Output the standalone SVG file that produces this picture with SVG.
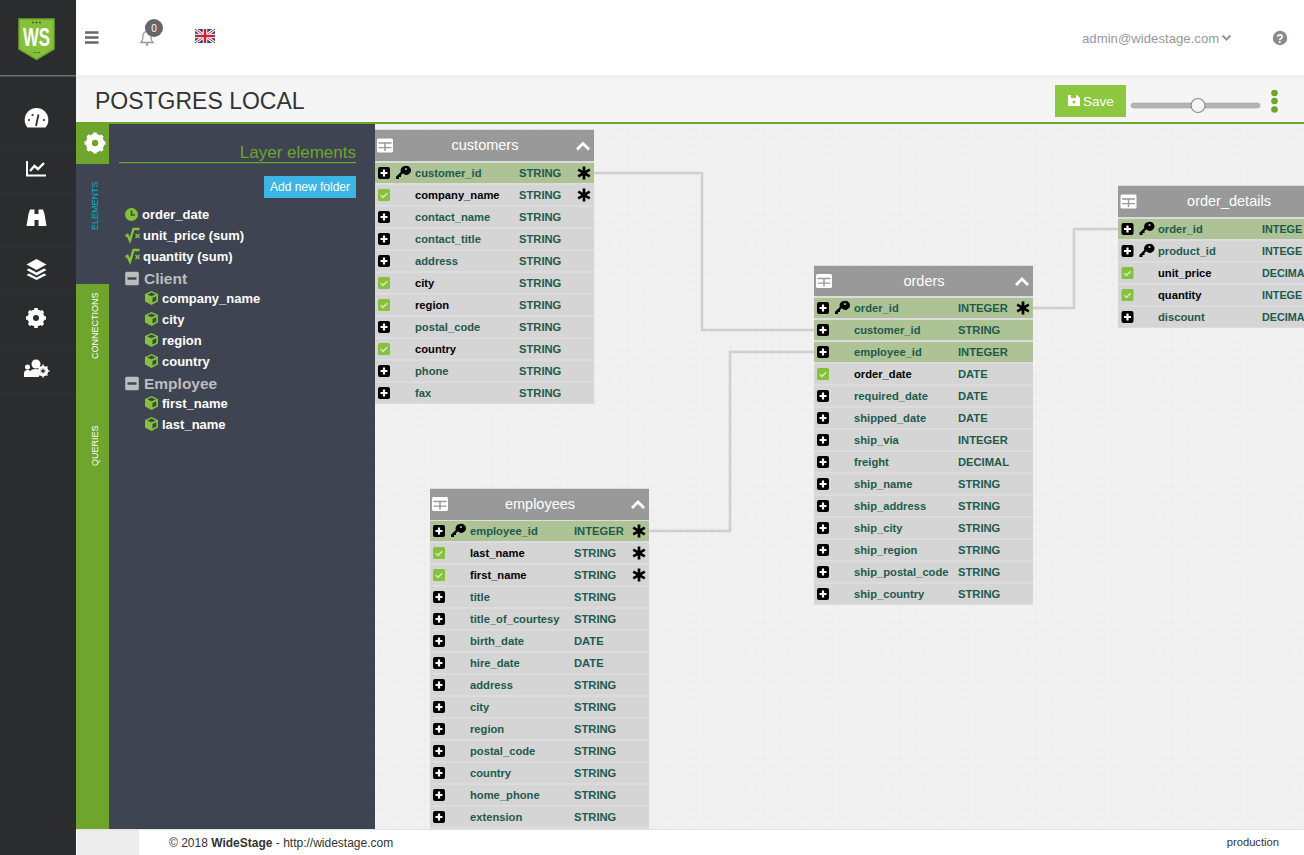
<svg xmlns="http://www.w3.org/2000/svg" width="1304" height="855" viewBox="0 0 1304 855">
<style>
text{font-family:"Liberation Sans",Arial,sans-serif}
.hd{font-size:14.5px;fill:#fff;text-anchor:middle}
.f{font-size:11.2px;font-weight:bold;fill:#1e5a4c}
.fs{font-size:11.2px;font-weight:bold;fill:#000}
.t{font-size:11.2px;font-weight:bold;fill:#1e5a4c}
.tc{font-size:10.8px;font-weight:bold;fill:#1e5a4c}
.r{fill:#d5d5d5}
.k{fill:#adc295}
.conn{fill:none;stroke:#cfcfcf;stroke-width:2.5}
.el{font-size:13px;font-weight:bold;fill:#fff}
.fold{font-size:15.5px;font-weight:bold;fill:#bdbdbd}
.vt{font-size:9px}
</style>
<defs>
<pattern id="grid" width="34" height="34" patternUnits="userSpaceOnUse" x="15.700" y="10">
<rect width="34" height="34" fill="#f1f1f1"/>
<path d="M8.500 0V34M17 0V34M25.500 0V34M0 8.500H34M0 17H34M0 25.500H34" stroke="#eeeeee" stroke-width="1" fill="none"/>
<path d="M0 0H34M0 0V34" stroke="#e9e9e9" stroke-width="1" fill="none"/>
</pattern>
<g id="plus"><rect x="-6" y="-6" width="12" height="12" rx="2" fill="#000"/><path d="M-3.500 0H3.500M0 -3.500V3.500" stroke="#fff" stroke-width="2.200"/></g>
<g id="chk"><rect x="-6" y="-6" width="12" height="12" rx="1.500" fill="#85c13c"/><path d="M-3.200 0.200L-1 2.400L3.200 -1.800" stroke="#d5e8bd" stroke-width="1.600" fill="none"/></g>
<path id="key" fill-rule="evenodd" fill="#000" d="M2.500 -6.500a4.500 4.500 0 0 0 -4.200 6L-6.500 4.200V6.500H-3.500V4.500H-1.500V2.500L0.500 0.700A4.500 4.500 0 1 0 2.500 -6.500ZM3.500 -4.600a1.100 1.100 0 1 0 0.010 0Z"/>
<g id="star"><path d="M0 -6.500V6.500M-5.800 -3.300L5.800 3.300M-5.800 3.300L5.800 -3.300" stroke="#000" stroke-width="2.700" fill="none"/></g>
<g id="tbl"><rect x="-8" y="-7" width="16" height="14" rx="1.500" fill="#fff"/><path d="M-6.500 -2.500H6.500M-6.500 2.200H6.500" stroke="#999" stroke-width="1.300"/><path d="M0 -2.500V5.500" stroke="#999" stroke-width="1.500"/></g>
<path id="chev" d="M-6 3.500L0 -2.500L6 3.500" stroke="#fff" stroke-width="2.800" fill="none"/>
<g id="cube"><path d="M0 -7L6.500 -4V3.500L0 7L-6.500 3.500V-4Z" fill="#85c13c"/><path d="M-4.200 -3.600L0 -5.400L4.200 -3.600L0 -1.800Z" fill="#3e4451"/><path d="M1 0V4.400L4.800 2.400V-1.800Z" fill="#3e4451"/></g>
<g id="sqrt"><path d="M-7 0.500L-5 -0.500L-2.500 5L1 -6.500H7" stroke="#85c13c" stroke-width="2.400" fill="none"/><path d="M3 -1.500L7 2.500M7 -1.500L3 2.500" stroke="#85c13c" stroke-width="1.600"/></g>
<g id="minus"><rect x="-6.800" y="-6.800" width="13.600" height="13.600" rx="1.500" fill="#bdbdbd"/><rect x="-4.500" y="-1.200" width="9" height="2.400" fill="#3e4451"/></g>
</defs>

<rect width="1304" height="855" fill="#fff"/>

<g id="page-header">
<rect x="76" y="75" width="1228" height="48" fill="#f5f5f5"/>
<rect x="76" y="75" width="1228" height="4" fill="#eeeeee"/>
<text x="95" y="109" font-size="23" fill="#333">POSTGRES LOCAL</text>
<rect x="76" y="122" width="1228" height="2" fill="#6ea52c"/>
</g>

<g id="canvas"><rect x="375" y="124" width="929" height="705" fill="url(#grid)"/></g>

<g id="connectors">
<path class="conn" d="M594 173H702V330H814"/>
<path class="conn" d="M649 531H730V352H814"/>
<path class="conn" d="M1033 308H1074V229H1118"/>
</g>

<g id="sidebar">
<rect width="76" height="855" fill="#2b2c2e"/>
<rect x="0" y="75" width="76" height="1.500" fill="#6d6e70"/>
<path d="M0 145H76M0 195H76M0 245H76M0 295H76M0 345H76M0 395H76" stroke="#313234" stroke-width="1"/>
<g id="logo">
<path d="M19 19H54V49L36.500 59.500L19 49Z" fill="#85c13c" stroke="#6ea52c" stroke-width="1.500"/>
<text x="36.500" y="46" font-size="25" font-weight="bold" fill="#fff" text-anchor="middle" textLength="27" lengthAdjust="spacingAndGlyphs">WS</text>
<path d="M32 22.500H41" stroke="#3e6b18" stroke-width="1.500" stroke-dasharray="2 1.500"/>
<path d="M33.500 52.500H40" stroke="#3e6b18" stroke-width="1" stroke-dasharray="1.500 1"/>
</g>
<g id="nav-dash"><path d="M27.500 127.500a11.800 11.800 0 1 1 18 0Z" fill="#fff"/><path d="M36 126L38.500 114.500" stroke="#2b2c2e" stroke-width="1.800"/><circle cx="29" cy="120" r="1.100" fill="#2b2c2e"/><circle cx="44" cy="120" r="1.100" fill="#2b2c2e"/><circle cx="32.500" cy="115" r="1.100" fill="#2b2c2e"/></g>
<g id="nav-chart"><path d="M27 161V175.500H46" stroke="#fff" stroke-width="2" fill="none"/><path d="M30 171L34.500 166L38 169L44 163" stroke="#fff" stroke-width="2.400" fill="none"/></g>
<g id="nav-binoc" fill="#fff"><path d="M26.500 226L28.500 214L30 209.500H34.500V226Z"/><path d="M46.500 226L44.500 214L43 209.500H38.500V226Z"/><rect x="34" y="214" width="5" height="6"/></g>
<g id="nav-layers" fill="#fff"><path d="M36.500 259L46.500 264.500L36.500 270L26.500 264.500Z"/><path d="M29 268.500L36.500 272.500L44 268.500L46.500 270L36.500 275.500L26.500 270Z"/><path d="M29 273.500L36.500 277.500L44 273.500L46.500 275L36.500 280L26.500 275Z"/></g>
<g id="nav-gear"><circle cx="36" cy="318" r="6.500" fill="none" stroke="#fff" stroke-width="4"/><path d="M36 308V328M26 318H46M29 311L43 325M43 311L29 325" stroke="#fff" stroke-width="3.500"/><circle cx="36" cy="318" r="3" fill="#2b2c2e"/></g>
<g id="nav-users" fill="#fff"><circle cx="36" cy="364" r="4.500"/><circle cx="27.500" cy="367" r="2.500"/><path d="M24 374a3.500 3.500 0 0 1 6 -3a8 8 0 0 1 9 -1v7H24Z"/><circle cx="43" cy="371" r="4" fill="none" stroke="#fff" stroke-width="2.500"/><path d="M43 364.500V377.500M36.500 371H49.500M38.500 366.500L47.500 375.500M47.500 366.500L38.500 375.500" stroke="#fff" stroke-width="1.500"/><circle cx="43" cy="371" r="1.800" fill="#2b2c2e"/></g>
</g>

<g id="topbar">
<rect x="76" y="0" width="1228" height="75" fill="#fff"/>
<path d="M85 32.500H98.500M85 37.500H98.500M85 42.500H98.500" stroke="#666" stroke-width="2.500"/>
<g id="bell"><path d="M141 42.500c2-1.500 2-4 2-7a4 4 0 0 1 8 0c0 3 0 5.500 2 7Z" fill="none" stroke="#999" stroke-width="1.300"/><circle cx="147" cy="44.500" r="1.300" fill="#999"/></g>
<circle cx="154" cy="28" r="9" fill="#666"/>
<text x="154" y="32" font-size="10" fill="#fff" text-anchor="middle">0</text>
<g id="flag"><rect x="195" y="29" width="20" height="14" fill="#2b3f86"/><path d="M195 29L215 43M215 29L195 43" stroke="#fff" stroke-width="3"/><path d="M195 29L215 43M215 29L195 43" stroke="#d0212f" stroke-width="1"/><path d="M205 29V43M195 36H215" stroke="#fff" stroke-width="4.500"/><path d="M205 29V43M195 36H215" stroke="#d0212f" stroke-width="2.500"/></g>
<text x="1082" y="43" font-size="13.200" fill="#999">admin@widestage.com</text>
<path d="M1222.500 35.500L1226.500 39.500L1230.500 35.500" fill="none" stroke="#999" stroke-width="2.200"/>
<circle cx="1280" cy="38" r="7.200" fill="#8a8a8a"/>
<text x="1280" y="42.500" font-size="12" font-weight="bold" fill="#fff" text-anchor="middle">?</text>
<rect x="1055" y="85" width="71" height="32" fill="#8dc63f"/>
<path d="M1068 95H1077L1080 98V106H1068Z" fill="#fff"/><rect x="1071" y="95" width="5" height="3" fill="#8dc63f"/><circle cx="1074" cy="102" r="1.500" fill="#8dc63f"/>
<text x="1083" y="105.500" font-size="13.500" fill="#fff">Save</text>
<rect x="1131" y="103" width="129" height="5" rx="2.500" fill="#b5b5b5" stroke="#999" stroke-width="0.500"/>
<circle cx="1198" cy="105.500" r="7" fill="#f5f5f5" stroke="#8a8a8a" stroke-width="1.200"/>
<circle cx="1274.500" cy="93" r="3.300" fill="#6ea52c"/><circle cx="1274.500" cy="101" r="3.300" fill="#6ea52c"/><circle cx="1274.500" cy="109.500" r="3.300" fill="#6ea52c"/>
</g>

<g id="layer-panel">
<rect x="76" y="124" width="299" height="705" fill="#3e4451"/>
<rect x="76" y="124" width="33" height="40" fill="#6ea52c"/>
<circle cx="95" cy="143" r="7" fill="none" stroke="#fff" stroke-width="4.500"/>
<path d="M95 132.500V153.500M84.500 143H105.500M87.500 135.500L102.500 150.500M102.500 135.500L87.500 150.500" stroke="#fff" stroke-width="3.500"/>
<circle cx="95" cy="143" r="3.200" fill="#6ea52c"/>
<rect x="76" y="284" width="33" height="545" fill="#6ea52c"/>
<text class="vt" x="97.500" y="230" fill="#00b5c8" transform="rotate(-90 97.500 230)">ELEMENTS</text>
<text class="vt" x="97.500" y="359" fill="#fff" transform="rotate(-90 97.500 359)">CONNECTIONS</text>
<text class="vt" x="97.500" y="466" fill="#fff" transform="rotate(-90 97.500 466)">QUERIES</text>
<text x="356" y="158" font-size="17" fill="#6ea52c" text-anchor="end">Layer elements</text>
<rect x="119" y="162" width="237" height="1.200" fill="#6ea52c"/>
<rect x="264" y="176" width="92" height="22" fill="#3db4e6"/>
<text x="310" y="191" font-size="12" fill="#fff" text-anchor="middle">Add new folder</text>
<g id="el-order-date"><circle cx="131.500" cy="214.500" r="6.500" fill="#85c13c"/><path d="M131.500 210.500V215H135" stroke="#3e4451" stroke-width="1.600" fill="none"/><text class="el" x="142" y="219">order_date</text></g>
<g id="el-unit-price"><use href="#sqrt" x="132.500" y="235.500"/><text class="el" x="143" y="240">unit_price (sum)</text></g>
<g id="el-quantity"><use href="#sqrt" x="132.500" y="256.500"/><text class="el" x="143" y="261">quantity (sum)</text></g>
<g id="folder-client"><use href="#minus" x="132" y="278.500"/><text class="fold" x="144" y="284">Client</text></g>
<g id="el-company"><use href="#cube" x="151.500" y="298"/><text class="el" x="162" y="303">company_name</text></g>
<g id="el-city"><use href="#cube" x="151.500" y="319"/><text class="el" x="162" y="324">city</text></g>
<g id="el-region"><use href="#cube" x="151.500" y="340"/><text class="el" x="162" y="345">region</text></g>
<g id="el-country"><use href="#cube" x="151.500" y="361"/><text class="el" x="162" y="366">country</text></g>
<g id="folder-employee"><use href="#minus" x="132" y="383.500"/><text class="fold" x="144" y="389">Employee</text></g>
<g id="el-first"><use href="#cube" x="151.500" y="403"/><text class="el" x="162" y="408">first_name</text></g>
<g id="el-last"><use href="#cube" x="151.500" y="424"/><text class="el" x="162" y="429">last_name</text></g>
</g>

<g id="customers">
<rect x="375" y="129" width="219" height="275" fill="#dcdcdc"/>
<rect x="375" y="130" width="219" height="31" fill="#999"/>
<use href="#tbl" x="385" y="145.500"/><text class="hd" x="485" y="150">customers</text><use href="#chev" x="583" y="146"/>
<rect class="k" x="375" y="163" width="219" height="20"/><use href="#plus" x="384" y="173"/><use href="#key" x="402.500" y="172.500"/><text class="f" x="415" y="177">customer_id</text><text class="t" x="519" y="177">STRING</text><use href="#star" x="584" y="173"/>
<rect class="r" x="375" y="185" width="219" height="20"/><use href="#chk" x="384" y="195"/><text class="fs" x="415" y="199">company_name</text><text class="t" x="519" y="199">STRING</text><use href="#star" x="584" y="195"/>
<rect class="r" x="375" y="207" width="219" height="20"/><use href="#plus" x="384" y="217"/><text class="f" x="415" y="221">contact_name</text><text class="t" x="519" y="221">STRING</text>
<rect class="r" x="375" y="229" width="219" height="20"/><use href="#plus" x="384" y="239"/><text class="f" x="415" y="243">contact_title</text><text class="t" x="519" y="243">STRING</text>
<rect class="r" x="375" y="251" width="219" height="20"/><use href="#plus" x="384" y="261"/><text class="f" x="415" y="265">address</text><text class="t" x="519" y="265">STRING</text>
<rect class="r" x="375" y="273" width="219" height="20"/><use href="#chk" x="384" y="283"/><text class="fs" x="415" y="287">city</text><text class="t" x="519" y="287">STRING</text>
<rect class="r" x="375" y="295" width="219" height="20"/><use href="#chk" x="384" y="305"/><text class="fs" x="415" y="309">region</text><text class="t" x="519" y="309">STRING</text>
<rect class="r" x="375" y="317" width="219" height="20"/><use href="#plus" x="384" y="327"/><text class="f" x="415" y="331">postal_code</text><text class="t" x="519" y="331">STRING</text>
<rect class="r" x="375" y="339" width="219" height="20"/><use href="#chk" x="384" y="349"/><text class="fs" x="415" y="353">country</text><text class="t" x="519" y="353">STRING</text>
<rect class="r" x="375" y="361" width="219" height="20"/><use href="#plus" x="384" y="371"/><text class="f" x="415" y="375">phone</text><text class="t" x="519" y="375">STRING</text>
<rect class="r" x="375" y="383" width="219" height="20"/><use href="#plus" x="384" y="393"/><text class="f" x="415" y="397">fax</text><text class="t" x="519" y="397">STRING</text>
</g>

<g id="employees">
<rect x="430" y="488" width="219" height="341" fill="#dcdcdc"/>
<rect x="430" y="489" width="219" height="31" fill="#999"/>
<use href="#tbl" x="440" y="504"/><text class="hd" x="540" y="509">employees</text><use href="#chev" x="638" y="504.500"/>
<rect class="k" x="430" y="521" width="219" height="20"/><use href="#plus" x="439" y="531"/><use href="#key" x="457.500" y="530.500"/><text class="f" x="470" y="535">employee_id</text><text class="t" x="574" y="535">INTEGER</text><use href="#star" x="639" y="531"/>
<rect class="r" x="430" y="543" width="219" height="20"/><use href="#chk" x="439" y="553"/><text class="fs" x="470" y="557">last_name</text><text class="t" x="574" y="557">STRING</text><use href="#star" x="639" y="553"/>
<rect class="r" x="430" y="565" width="219" height="20"/><use href="#chk" x="439" y="575"/><text class="fs" x="470" y="579">first_name</text><text class="t" x="574" y="579">STRING</text><use href="#star" x="639" y="575"/>
<rect class="r" x="430" y="587" width="219" height="20"/><use href="#plus" x="439" y="597"/><text class="f" x="470" y="601">title</text><text class="t" x="574" y="601">STRING</text>
<rect class="r" x="430" y="609" width="219" height="20"/><use href="#plus" x="439" y="619"/><text class="f" x="470" y="623">title_of_courtesy</text><text class="t" x="574" y="623">STRING</text>
<rect class="r" x="430" y="631" width="219" height="20"/><use href="#plus" x="439" y="641"/><text class="f" x="470" y="645">birth_date</text><text class="t" x="574" y="645">DATE</text>
<rect class="r" x="430" y="653" width="219" height="20"/><use href="#plus" x="439" y="663"/><text class="f" x="470" y="667">hire_date</text><text class="t" x="574" y="667">DATE</text>
<rect class="r" x="430" y="675" width="219" height="20"/><use href="#plus" x="439" y="685"/><text class="f" x="470" y="689">address</text><text class="t" x="574" y="689">STRING</text>
<rect class="r" x="430" y="697" width="219" height="20"/><use href="#plus" x="439" y="707"/><text class="f" x="470" y="711">city</text><text class="t" x="574" y="711">STRING</text>
<rect class="r" x="430" y="719" width="219" height="20"/><use href="#plus" x="439" y="729"/><text class="f" x="470" y="733">region</text><text class="t" x="574" y="733">STRING</text>
<rect class="r" x="430" y="741" width="219" height="20"/><use href="#plus" x="439" y="751"/><text class="f" x="470" y="755">postal_code</text><text class="t" x="574" y="755">STRING</text>
<rect class="r" x="430" y="763" width="219" height="20"/><use href="#plus" x="439" y="773"/><text class="f" x="470" y="777">country</text><text class="t" x="574" y="777">STRING</text>
<rect class="r" x="430" y="785" width="219" height="20"/><use href="#plus" x="439" y="795"/><text class="f" x="470" y="799">home_phone</text><text class="t" x="574" y="799">STRING</text>
<rect class="r" x="430" y="807" width="219" height="20"/><use href="#plus" x="439" y="817"/><text class="f" x="470" y="821">extension</text><text class="t" x="574" y="821">STRING</text>
</g>

<g id="orders">
<rect x="814" y="265" width="219" height="340" fill="#dcdcdc"/>
<rect x="814" y="266" width="219" height="30" fill="#999"/>
<use href="#tbl" x="824" y="281"/><text class="hd" x="924" y="285.500">orders</text><use href="#chev" x="1022" y="281.500"/>
<rect class="k" x="814" y="298" width="219" height="20"/><use href="#plus" x="823" y="308"/><use href="#key" x="841.500" y="307.500"/><text class="f" x="854" y="312">order_id</text><text class="t" x="958" y="312">INTEGER</text><use href="#star" x="1023" y="308"/>
<rect class="k" x="814" y="320" width="219" height="20"/><use href="#plus" x="823" y="330"/><text class="f" x="854" y="334">customer_id</text><text class="t" x="958" y="334">STRING</text>
<rect class="k" x="814" y="342" width="219" height="20"/><use href="#plus" x="823" y="352"/><text class="f" x="854" y="356">employee_id</text><text class="t" x="958" y="356">INTEGER</text>
<rect class="r" x="814" y="364" width="219" height="20"/><use href="#chk" x="823" y="374"/><text class="fs" x="854" y="378">order_date</text><text class="t" x="958" y="378">DATE</text>
<rect class="r" x="814" y="386" width="219" height="20"/><use href="#plus" x="823" y="396"/><text class="f" x="854" y="400">required_date</text><text class="t" x="958" y="400">DATE</text>
<rect class="r" x="814" y="408" width="219" height="20"/><use href="#plus" x="823" y="418"/><text class="f" x="854" y="422">shipped_date</text><text class="t" x="958" y="422">DATE</text>
<rect class="r" x="814" y="430" width="219" height="20"/><use href="#plus" x="823" y="440"/><text class="f" x="854" y="444">ship_via</text><text class="t" x="958" y="444">INTEGER</text>
<rect class="r" x="814" y="452" width="219" height="20"/><use href="#plus" x="823" y="462"/><text class="f" x="854" y="466">freight</text><text class="t" x="958" y="466">DECIMAL</text>
<rect class="r" x="814" y="474" width="219" height="20"/><use href="#plus" x="823" y="484"/><text class="f" x="854" y="488">ship_name</text><text class="t" x="958" y="488">STRING</text>
<rect class="r" x="814" y="496" width="219" height="20"/><use href="#plus" x="823" y="506"/><text class="f" x="854" y="510">ship_address</text><text class="t" x="958" y="510">STRING</text>
<rect class="r" x="814" y="518" width="219" height="20"/><use href="#plus" x="823" y="528"/><text class="f" x="854" y="532">ship_city</text><text class="t" x="958" y="532">STRING</text>
<rect class="r" x="814" y="540" width="219" height="20"/><use href="#plus" x="823" y="550"/><text class="f" x="854" y="554">ship_region</text><text class="t" x="958" y="554">STRING</text>
<rect class="r" x="814" y="562" width="219" height="20"/><use href="#plus" x="823" y="572"/><text class="f" x="854" y="576">ship_postal_code</text><text class="t" x="958" y="576">STRING</text>
<rect class="r" x="814" y="584" width="219" height="20"/><use href="#plus" x="823" y="594"/><text class="f" x="854" y="598">ship_country</text><text class="t" x="958" y="598">STRING</text>
</g>

<g id="order_details">
<rect x="1118" y="185" width="186" height="143" fill="#dcdcdc"/>
<rect x="1118" y="186" width="186" height="31" fill="#999"/>
<use href="#tbl" x="1128.500" y="201.500"/><text class="hd" x="1229" y="206">order_details</text>
<rect class="k" x="1118" y="219" width="186" height="20"/><use href="#plus" x="1127.500" y="229"/><use href="#key" x="1146" y="228.500"/><text class="f" x="1158" y="233">order_id</text><text class="tc" x="1262" y="233">INTEGE</text>
<rect class="r" x="1118" y="241" width="186" height="20"/><use href="#plus" x="1127.500" y="251"/><use href="#key" x="1146" y="250.500"/><text class="f" x="1158" y="255">product_id</text><text class="tc" x="1262" y="255">INTEGE</text>
<rect class="r" x="1118" y="263" width="186" height="20"/><use href="#chk" x="1127.500" y="273"/><text class="fs" x="1158" y="277">unit_price</text><text class="tc" x="1262" y="277">DECIMA</text>
<rect class="r" x="1118" y="285" width="186" height="20"/><use href="#chk" x="1127.500" y="295"/><text class="fs" x="1158" y="299">quantity</text><text class="tc" x="1262" y="299">INTEGE</text>
<rect class="r" x="1118" y="307" width="186" height="20"/><use href="#plus" x="1127.500" y="317"/><text class="f" x="1158" y="321">discount</text><text class="tc" x="1262" y="321">DECIMA</text>
</g>

<g id="footer">
<rect x="76" y="829" width="1228" height="26" fill="#fff"/>
<rect x="76" y="829" width="1228" height="1" fill="#e2e2e2"/>
<rect x="77" y="830" width="62" height="25" fill="#ececec"/>
<text x="169" y="847" font-size="12" fill="#333">© 2018 <tspan font-weight="bold">WideStage</tspan> - http://widestage.com</text>
<text x="1279" y="846" font-size="11.200" fill="#333" text-anchor="end">production</text>
</g>
</svg>
